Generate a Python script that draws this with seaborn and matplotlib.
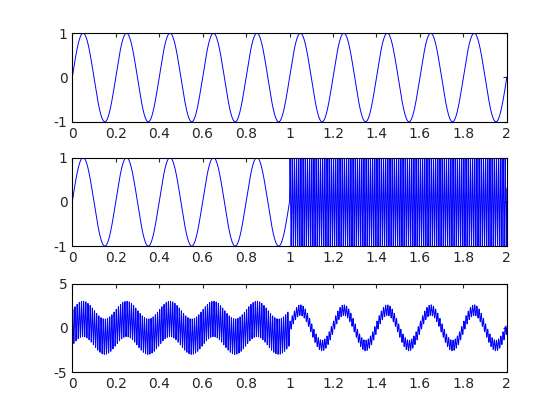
import numpy as np
import matplotlib
matplotlib.use('Agg')
import matplotlib.pyplot as plt
import seaborn as sns

# signal parameters
fs = 2000
low_freq = 5
high_freq = 100
t = np.arange(0, 2 + 1 / fs, 1 / fs)

top = np.sin(2 * np.pi * low_freq * t)
middle = np.where(t < 1, np.sin(2 * np.pi * low_freq * t), np.sin(2 * np.pi * high_freq * t))
bottom = np.where(t < 1,
                  np.sin(2 * np.pi * low_freq * t) + 2 * np.sin(2 * np.pi * high_freq * t),
                  2 * np.sin(2 * np.pi * low_freq * t) + 0.6 * np.sin(2 * np.pi * high_freq * t))

xticks = np.round(np.arange(0, 2.01, 0.2), 1)
xlabels = ['0', '0.2', '0.4', '0.6', '0.8', '1', '1.2', '1.4', '1.6', '1.8', '2']

sns.set_style('white')
plt.rcParams['font.family'] = ['DejaVu Sans']
plt.rcParams['axes.unicode_minus'] = False
fig = plt.figure(figsize=(5.6, 4.2), dpi=100)

rows = [(0.71, top, [-1, 0, 1], (-1, 1)),
        (0.414, middle, [-1, 0, 1], (-1, 1)),
        (0.114, bottom, [-5, 0, 5], (-5, 5))]
for y0, sig, yt, yl in rows:
    ax = fig.add_axes([0.129, y0, 0.776, 0.211])
    sns.lineplot(x=t, y=sig, ax=ax, color='#0000ff', linewidth=0.7)
    ax.set_xlim(0, 2)
    ax.set_ylim(*yl)
    ax.set_xticks(xticks)
    ax.set_xticklabels(xlabels)
    ax.set_yticks(yt)
    ax.set_yticklabels([str(v) for v in yt])
    ax.tick_params(direction='in', labelsize=10, length=3, top=True, right=True)
    for s in ax.spines.values():
        s.set_color('black')
        s.set_linewidth(0.8)

fig.savefig('out.png', dpi=100, facecolor='white')
